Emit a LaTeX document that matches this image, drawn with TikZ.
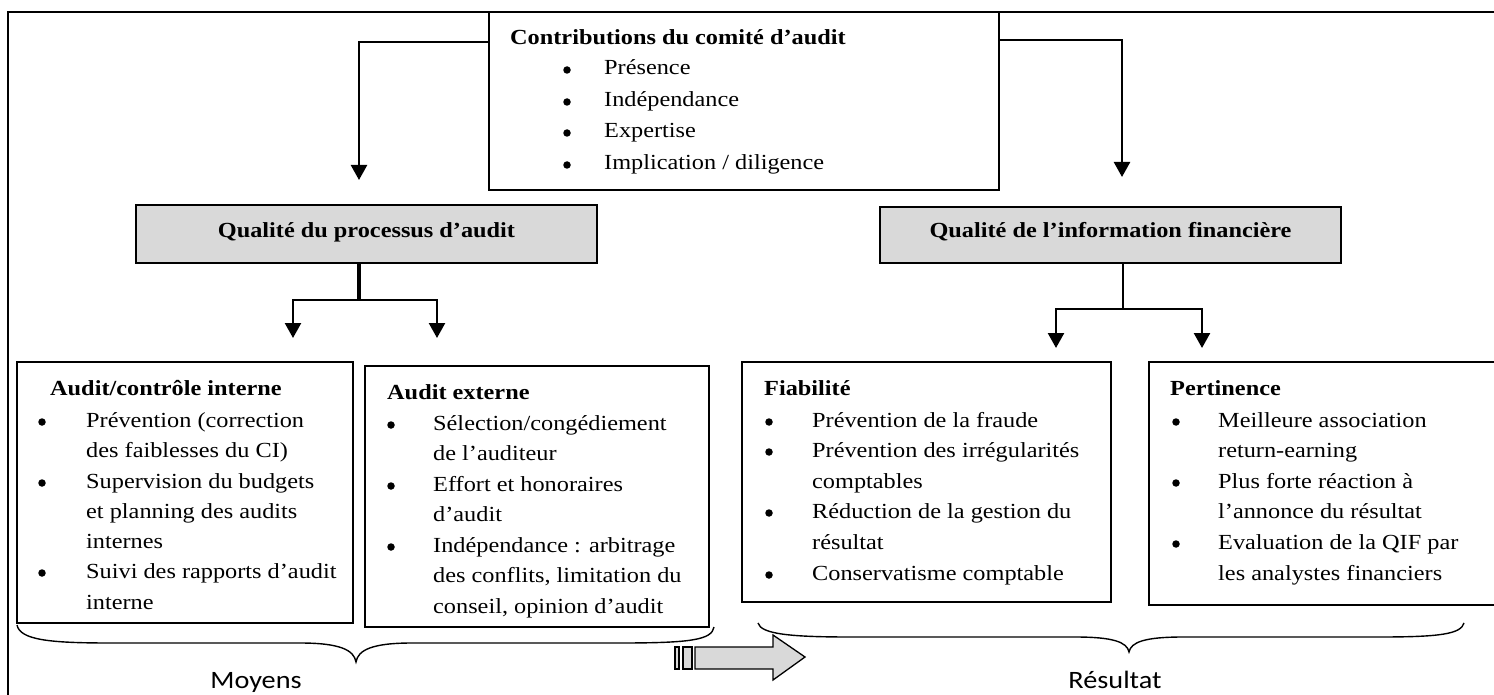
\documentclass[tikz,border=0pt]{standalone}
\usepackage{fontspec}
\setmainfont{Liberation Serif}
\newfontfamily\labfont{Carlito}
\usetikzlibrary{arrows.meta}
\definecolor{boxgray}{HTML}{D9D9D9}
\newcommand{\hs}[1]{\scalebox{1.13}[1]{#1}}
\begin{document}
\begin{tikzpicture}[x=1pt,y=-1pt,
  box/.style={draw, line width=1.4pt, inner sep=0pt},
  gbox/.style={draw, line width=1.8pt, fill=boxgray, inner sep=0pt},
  conn/.style={line width=2.4pt, -{Triangle[width=16pt,length=15pt]}},
  txt/.style={anchor=base west, inner sep=0pt, font=\fontsize{21.5}{25}\selectfont},
  ttl/.style={anchor=base west, inner sep=0pt, font=\fontsize{21.5}{25}\selectfont\bfseries},
  ctl/.style={anchor=base, inner sep=0pt, font=\fontsize{21.5}{25}\selectfont\bfseries},
  bul/.style={circle, fill=black, inner sep=0pt, minimum size=7.5pt, yshift=5pt},
  lab/.style={anchor=base, inner sep=0pt, font=\labfont\fontsize{25}{30}\selectfont},
  brace/.style={line width=1.4pt}
]
\useasboundingbox (0,0) rectangle (1494,695);
% outer frame
\draw[line width=1.4pt] (8,695) -- (8,12) -- (1494,12);

% boxes
\node[box, minimum width=510pt, minimum height=178pt] (top) at (744,101) {};
\node[gbox, minimum width=461pt, minimum height=58pt] (lq) at (366.5,234) {};
\node[gbox, minimum width=461pt, minimum height=56pt] (rq) at (1110.5,235) {};
\node[box, minimum width=336pt, minimum height=261pt] (b1) at (185,492.5) {};
\node[box, minimum width=344pt, minimum height=261pt] (b2) at (537,496.5) {};
\node[box, minimum width=369pt, minimum height=240pt] (b3) at (926.5,482) {};
\node[box, minimum width=351pt, minimum height=243pt] (b4) at (1324.5,483.5) {};

% connectors
\coordinate (tl) at (489,42);
\coordinate (lt) at (359,180);
\coordinate (tr) at (999,40);
\coordinate (rt) at (1122,177);
\draw[conn] (tl) -| (lt);
\draw[conn] (tr) -| (rt);

\coordinate (lj) at (359,300);
\coordinate (la1) at (293,338);
\coordinate (la2) at (437,338);
\draw[line width=4pt] (lj |- lq.south) -- (lj);
\draw[conn] (lj) -| (la1);
\draw[conn] (lj) -| (la2);

\coordinate (rj) at (1123,309);
\coordinate (ra1) at (1056,348);
\coordinate (ra2) at (1202,348);
\draw[line width=2.6pt] (rj |- rq.south) -- (rj);
\draw[conn] (rj) -| (ra1);
\draw[conn] (rj) -| (ra2);

% top box text
\node[ttl] (tt) at (510,45) {\hs{Contributions du comité d’audit}};
\node[bul] (tp1) at (567,75) {};
\node[bul] (tp2) at (567,107) {};
\node[bul] (tp3) at (567,138) {};
\node[bul] (tp4) at (567,170) {};
\node[txt] (tl1) at (604,75) {\hs{Présence}};
\node[txt] (tl2) at (604,107) {\hs{Indépendance}};
\node[txt] (tl3) at (604,138) {\hs{Expertise}};
\node[txt] (tl4) at (604,170) {\hs{Implication / diligence}};

% gray titles
\node[ctl] (lqt) at (366.5,238) {\hs{Qualité du processus d’audit}};
\node[ctl] (rqt) at (1110.5,238) {\hs{Qualité de l’information financière}};

% box 1
\node[ttl] (b1t) at (50,395) {\hs{Audit/contrôle interne}};
\node[bul] (b1p1) at (42,427) {};
\node[bul] (b1p2) at (42,488) {};
\node[bul] (b1p3) at (42,578) {};
\node[txt] (b1l1) at (86,427) {\hs{Prévention (correction}};
\node[txt] (b1l2) at (86,457) {\hs{des faiblesses du CI)}};
\node[txt] (b1l3) at (86,488) {\hs{Supervision du budgets}};
\node[txt] (b1l4) at (86,518) {\hs{et planning des audits}};
\node[txt] (b1l5) at (86,548) {\hs{internes}};
\node[txt] (b1l6) at (86,578) {\hs{Suivi des rapports d’audit}};
\node[txt] (b1l7) at (86,609) {\hs{interne}};

% box 2
\node[ttl] (b2t) at (387,399) {\hs{Audit externe}};
\node[bul] (b2p1) at (391,430) {};
\node[bul] (b2p2) at (391,491) {};
\node[bul] (b2p3) at (391,552) {};
\node[txt] (b2l1) at (433,430) {\hs{Sélection/congédiement}};
\node[txt] (b2l2) at (433,460) {\hs{de l’auditeur}};
\node[txt] (b2l3) at (433,491) {\hs{Effort et honoraires}};
\node[txt] (b2l4) at (433,521) {\hs{d’audit}};
\node[txt] (b2l5) at (433,552) {\hs{Indépendance : arbitrage}};
\node[txt] (b2l6) at (433,582) {\hs{des conflits, limitation du}};
\node[txt] (b2l7) at (433,613) {\hs{conseil, opinion d’audit}};

% box 3
\node[ttl] (b3t) at (764,395) {\hs{Fiabilité}};
\node[bul] (b3p1) at (769,427) {};
\node[bul] (b3p2) at (769,457) {};
\node[bul] (b3p3) at (769,518) {};
\node[bul] (b3p4) at (769,580) {};
\node[txt] (b3l1) at (812,427) {\hs{Prévention de la fraude}};
\node[txt] (b3l2) at (812,457) {\hs{Prévention des irrégularités}};
\node[txt] (b3l3) at (812,488) {\hs{comptables}};
\node[txt] (b3l4) at (812,518) {\hs{Réduction de la gestion du}};
\node[txt] (b3l5) at (812,549) {\hs{résultat}};
\node[txt] (b3l6) at (812,580) {\hs{Conservatisme comptable}};

% box 4
\node[ttl] (b4t) at (1170,395) {\hs{Pertinence}};
\node[bul] (b4p1) at (1176,427) {};
\node[bul] (b4p2) at (1176,488) {};
\node[bul] (b4p3) at (1176,549) {};
\node[txt] (b4l1) at (1218,427) {\hs{Meilleure association}};
\node[txt] (b4l2) at (1218,457) {\hs{return-earning}};
\node[txt] (b4l3) at (1218,488) {\hs{Plus forte réaction à}};
\node[txt] (b4l4) at (1218,518) {\hs{l’annonce du résultat}};
\node[txt] (b4l5) at (1218,549) {\hs{Evaluation de la QIF par}};
\node[txt] (b4l6) at (1218,580) {\hs{les analystes financiers}};

% braces
\draw[brace] (17,625) .. controls (20,640) and (50,643) .. (110,643)
  -- (300,643) .. controls (340,643) and (354,650) .. (356,662)
  .. controls (358,650) and (372,643) .. (412,643)
  -- (620,643) .. controls (690,643) and (712,640) .. (714,627);
\draw[brace] (758,623) .. controls (761,634) and (790,637) .. (850,637)
  -- (1075,637) .. controls (1113,637) and (1127,642) .. (1129,652)
  .. controls (1131,642) and (1145,637) .. (1183,637)
  -- (1380,637) .. controls (1440,637) and (1461,634) .. (1464,623);

% labels
\node[lab] (moy) at (256,688) {\hs{Moyens}};
\node[lab] (res) at (1115,688) {\hs{Résultat}};

% bottom arrow
\draw[line width=1.3pt, fill=boxgray] (675,647) rectangle (679,669);
\draw[line width=1.3pt, fill=boxgray] (683,647) rectangle (692,669);
\draw[line width=1.3pt, fill=boxgray, line join=miter]
  (695,647) -- (773,647) -- (773,635) -- (805,657) -- (773,680)
  -- (773,669) -- (695,669) -- cycle;
\end{tikzpicture}
\end{document}
